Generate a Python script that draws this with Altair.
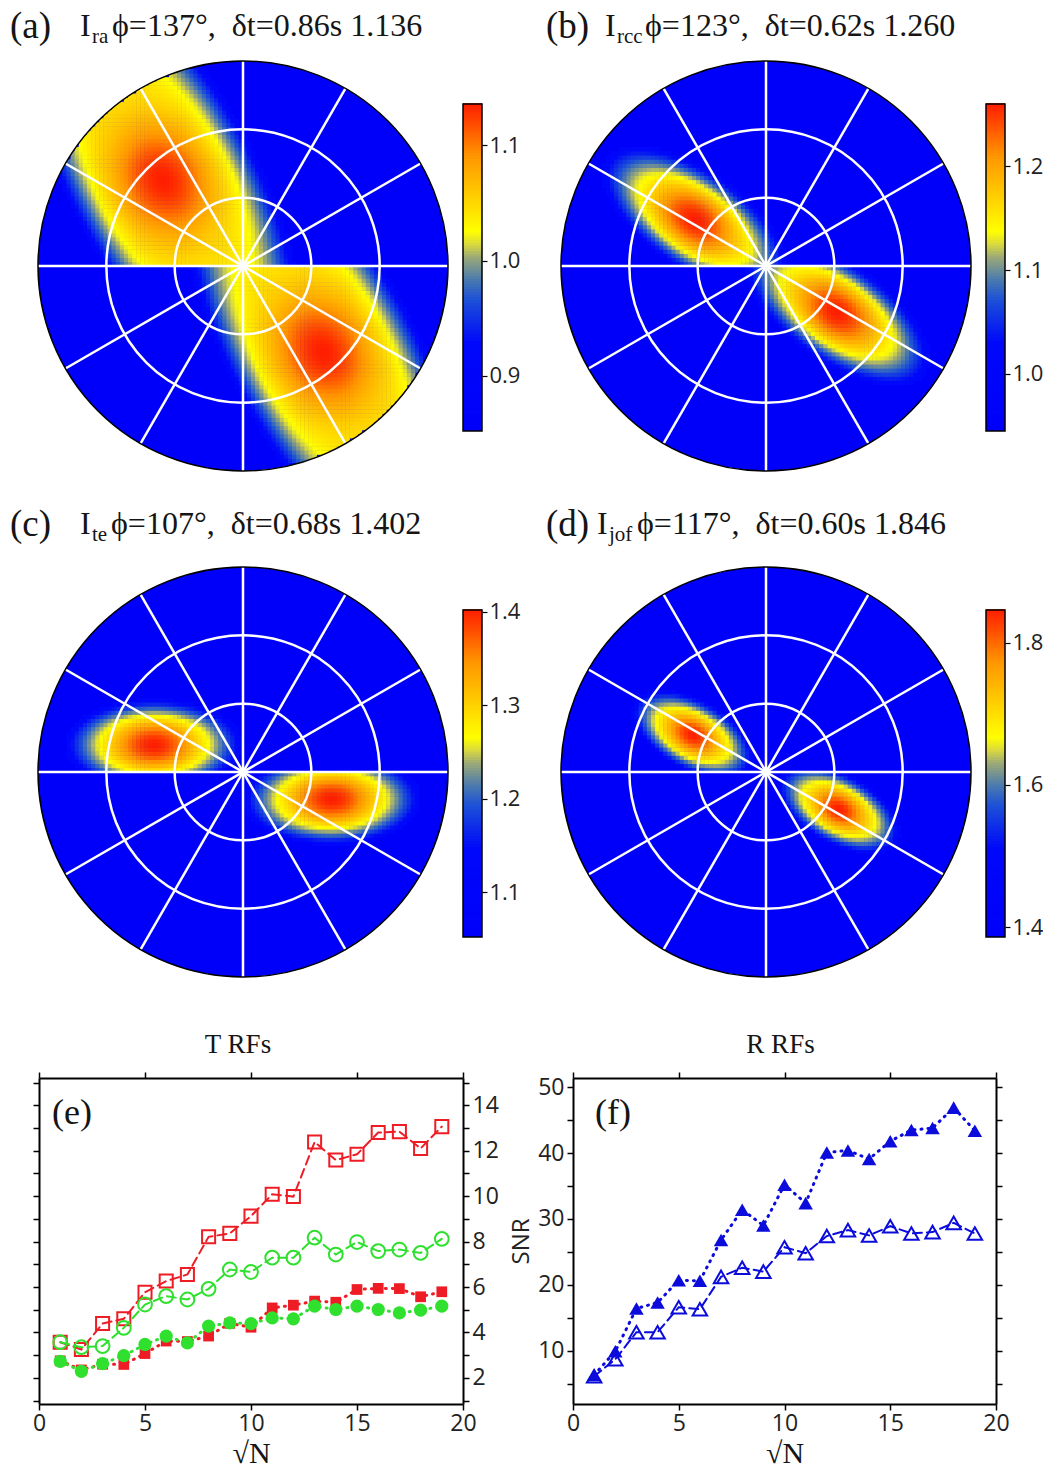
import math
import numpy as np
import pandas as pd
import altair as alt

alt.data_transformers.disable_max_rows()

# ---------------- values ----------------
PANEL_TAG = ["(a)", "(b)", "(c)", "(d)"]
PANEL_SUB = ["ra", "rcc", "te", "jof"]
PHI_DEG = [137, 123, 107, 117]
DT_S = [0.86, 0.62, 0.68, 0.60]
E_MAX = [1.136, 1.260, 1.402, 1.846]
E_MIN = [0.852, 0.945, 1.052, 1.386]
CB_TICKS = [[0.9, 1.0, 1.1], [1.0, 1.1, 1.2], [1.1, 1.2, 1.3, 1.4], [1.4, 1.6, 1.8]]
# shape of the energy maximum (fractions of the plot radius)
BLOB_AXIS_DEG = [118, 145, 180, 151]
BLOB_SIG_LONG = [1.00, 0.42, 0.345, 0.26]
BLOB_SIG_SHORT = [0.395, 0.19, 0.177, 0.135]
BLOB_EDGE = [3, 2, 2, 2]
CORE_SIG_LONG = [0.20, 0.13, 0.12, 0.08]
CORE_SIG_SHORT = [0.16, 0.09, 0.075, 0.055]
PLATEAU = [0.66, 0.70, 0.70, 0.70]
DT_MAX = 1.5
RING_DT = [0.5, 1.0]
SPOKE_DEG = [0, 30, 60, 90, 120, 150]

SQRT_N = list(range(1, 20))
T_RED_OPEN = [3.57, 3.25, 4.39, 4.60, 5.77, 6.26, 6.55, 8.21, 8.36, 9.12, 10.08, 9.98,
              12.38, 11.59, 11.84, 12.80, 12.84, 12.10, 13.06]
T_GRN_OPEN = [3.57, 3.35, 3.40, 4.20, 5.23, 5.60, 5.45, 5.92, 6.77, 6.66, 7.29, 7.29,
              8.17, 7.43, 7.98, 7.58, 7.65, 7.50, 8.12]
T_RED_FILL = [2.75, 2.35, 2.60, 2.59, 3.07, 3.62, 3.60, 3.84, 4.40, 4.23, 5.08, 5.20,
              5.38, 5.33, 5.89, 5.94, 5.93, 5.57, 5.79]
T_GRN_FILL = [2.73, 2.29, 2.63, 2.98, 3.47, 3.84, 3.54, 4.28, 4.42, 4.39, 4.64, 4.60,
              5.16, 5.01, 5.16, 5.01, 4.86, 4.98, 5.16]
R_FILL = [6.3, 9.9, 16.4, 17.3, 20.7, 20.6, 26.8, 31.4, 29.0, 35.2, 32.4, 40.1,
          40.4, 39.1, 41.8, 43.5, 43.8, 46.9, 43.4]
R_OPEN = [6.1, 8.7, 12.8, 12.8, 16.6, 16.3, 21.2, 22.6, 22.0, 25.7, 24.8, 27.4,
          28.3, 27.5, 28.9, 27.8, 28.0, 29.4, 27.8]

# ---------------- styling ----------------
R_PX = 205
STEP = 0.02
BLUE_BG = "#0000fa"
RED = "#ee1c24"
GREEN = "#2fe02f"
BLUE = "#0b0bdc"
SERIF = "Liberation Serif"
SANS = "Open Sans"

CSCALE = alt.Scale(
    domain=[0, 0.27, 0.40, 0.46, 0.53, 0.57, 0.61, 0.73, 0.84, 1.0],
    range=[BLUE_BG, "#0008fa", "#1c50d8", "#4878b0", "#9aa878", "#d8d840",
           "#ffff00", "#ffc800", "#ff9600", "#ff1e00"],
    interpolate="rgb",
)

# page geometry (pixels): panel origin, circle centre, size; colour bar top/bottom
GEOM = [
    dict(left=8, cx=243, W=444, top=16, cy=265, H=458, cbt=103, cbb=430,
         tag_x=2, i_x=72, sub_x=84, rest_x=104),
    dict(left=538, cx=765, W=436, top=16, cy=265, H=458, cbt=103, cbb=430,
         tag_x=7, i_x=66, sub_x=78, rest_x=106),
    dict(left=8, cx=243, W=444, top=513, cy=770, H=466, cbt=608, cbb=935,
         tag_x=2, i_x=72, sub_x=84, rest_x=103),
    dict(left=538, cx=765, W=436, top=513, cy=770, H=466, cbt=608, cbb=935,
         tag_x=7, i_x=58, sub_x=70, rest_x=98),
]
TXT_BASE = 19
CB_W = 19


def blob_cells(i):
    r = DT_S[i] / DT_MAX
    ang = math.radians(90 - PHI_DEG[i])
    pu, pv = -r * math.cos(ang), -r * math.sin(ang)
    th = math.radians(BLOB_AXIS_DEG[i])
    ca, sa = math.cos(th), math.sin(th)
    rows = []
    n = int(round(2 / STEP))
    h = STEP / 2 + 0.0012
    for ix in range(n):
        u = -1 + STEP * (ix + 0.5)
        for iy in range(n):
            v = -1 + STEP * (iy + 0.5)
            if u * u + v * v > 1.0:
                continue
            if v > 0:
                du, dv = u - pu, v - pv
            else:
                du, dv = u + pu, v + pv
            a = du * ca + dv * sa
            b = -du * sa + dv * ca
            s_env = (a / BLOB_SIG_LONG[i]) ** 2 + (b / BLOB_SIG_SHORT[i]) ** 2
            s_core = (a / CORE_SIG_LONG[i]) ** 2 + (b / CORE_SIG_SHORT[i]) ** 2
            env = math.exp(-0.5 * s_env ** BLOB_EDGE[i])
            core = PLATEAU[i] + (1 - PLATEAU[i]) * math.exp(-0.5 * s_core)
            gval = env * core
            if gval < 0.2:
                continue
            rows.append((round(u - h, 4), round(u + h, 4), round(v - h, 4), round(v + h, 4), round(gval, 3)))
    return pd.DataFrame(rows, columns=["u0", "u1", "v0", "v1", "t"])


def text_layer(s, x, y, size, font=SERIF):
    return alt.Chart(pd.DataFrame({"s": [s]})).mark_text(
        font=font, fontSize=size, align="left", baseline="alphabetic", color="#151515"
    ).encode(text="s:N", x=alt.value(x), y=alt.value(y))


def polar_panel(i):
    g = GEOM[i]
    xlo = -(g["cx"] - g["left"]) / R_PX
    xhi = xlo + g["W"] / R_PX
    yhi = (g["cy"] - g["top"]) / R_PX
    ylo = yhi - g["H"] / R_PX
    xs = alt.Scale(domain=[xlo, xhi], nice=False, zero=False)
    ys = alt.Scale(domain=[ylo, yhi], nice=False, zero=False)
    rs = alt.Scale(domain=[0, DT_MAX], range=[0, R_PX], nice=False, zero=True)
    full = dict(theta=0, theta2=2 * math.pi)

    center = pd.DataFrame({"cx": [0.0], "cy": [0.0], "r": [DT_MAX], "r2": [DT_MAX * 1.018]})
    cenc = dict(x=alt.X("cx:Q", scale=xs, axis=None), y=alt.Y("cy:Q", scale=ys, axis=None))

    disc = alt.Chart(center).mark_arc(fill=BLUE_BG, **full).encode(
        radius=alt.Radius("r:Q", scale=rs, stack=False), **cenc)
    cells = alt.Chart(blob_cells(i)).mark_rect().encode(
        x=alt.X("u0:Q", scale=xs, axis=None), x2="u1:Q",
        y=alt.Y("v0:Q", scale=ys, axis=None), y2="v1:Q",
        color=alt.Color("t:Q", scale=CSCALE, legend=None))
    mask = alt.Chart(center).mark_arc(fill="white", **full).encode(
        radius=alt.Radius("r2:Q", scale=rs, stack=False), radius2="r:Q", **cenc)
    rings_df = pd.DataFrame({"cx": [0.0] * len(RING_DT), "cy": [0.0] * len(RING_DT), "r": RING_DT})
    rings = alt.Chart(rings_df).mark_arc(fillOpacity=0, stroke="white", strokeWidth=2.5, **full).encode(
        radius=alt.Radius("r:Q", scale=rs, stack=False), **cenc)
    sp = pd.DataFrame({
        "x1": [math.cos(math.radians(a)) for a in SPOKE_DEG],
        "y1": [math.sin(math.radians(a)) for a in SPOKE_DEG],
    })
    sp["x2"] = -sp["x1"]
    sp["y2"] = -sp["y1"]
    spokes = alt.Chart(sp).mark_rule(color="white", strokeWidth=2.5).encode(
        x=alt.X("x1:Q", scale=xs, axis=None), y=alt.Y("y1:Q", scale=ys, axis=None),
        x2="x2:Q", y2="y2:Q")
    outline = alt.Chart(center).mark_arc(fillOpacity=0, stroke="black", strokeWidth=1.5, **full).encode(
        radius=alt.Radius("r:Q", scale=rs, stack=False), **cenc)

    rest = f"\u03d5={PHI_DEG[i]}\u00b0,\u00a0\u00a0\u03b4t={DT_S[i]:.2f}s {E_MAX[i]:.3f}"
    texts = [
        text_layer(PANEL_TAG[i], g["tag_x"], TXT_BASE + 2, 37),
        text_layer("I", g["i_x"], TXT_BASE, 32),
        text_layer(PANEL_SUB[i], g["sub_x"], TXT_BASE + 7, 21),
        text_layer(rest, g["rest_x"], TXT_BASE, 32),
    ]
    return alt.layer(disc, cells, mask, rings, spokes, outline, *texts).properties(
        width=g["W"], height=g["H"])


def colorbar(i):
    g = GEOM[i]
    cb_top = g["cbt"] - g["top"]
    cb_bot = g["cbb"] - g["top"]
    edges = np.linspace(E_MIN[i], E_MAX[i], 121)
    df = pd.DataFrame({"lo": edges[:-1], "hi": edges[1:] + (edges[1] - edges[0]) * 0.3})
    df["t"] = ((edges[:-1] + edges[1:]) / 2 - E_MIN[i]) / (E_MAX[i] - E_MIN[i])
    ys = alt.Scale(domain=[E_MIN[i], E_MAX[i]], range=[cb_bot, cb_top], nice=False, zero=False)
    ax = alt.Axis(orient="right", values=CB_TICKS[i], format=".1f", tickSize=5, tickColor="black",
                  tickWidth=1.2, domain=False, labelFont=SANS, labelFontSize=22, labelColor="#222",
                  labelPadding=2, grid=False, title=None, labelOverlap=False)
    bar = alt.Chart(df).mark_rect().encode(
        x=alt.value(0), x2=alt.value(CB_W),
        y=alt.Y("lo:Q", scale=ys, axis=ax), y2="hi:Q",
        color=alt.Color("t:Q", scale=CSCALE, legend=None))
    frame = alt.Chart(pd.DataFrame({"lo": [E_MIN[i]], "hi": [E_MAX[i]]})).mark_rect(
        fillOpacity=0, stroke="black", strokeWidth=1.5).encode(
        x=alt.value(0), x2=alt.value(CB_W),
        y=alt.Y("lo:Q", scale=ys, axis=ax), y2="hi:Q")
    return alt.layer(bar, frame).properties(width=CB_W, height=g["H"])


def line_panel(df, series, ydom, ax_main_y, ax_other_y, xs_vals, tag, tag_x, title, title_dx, W, H):
    xs = alt.Scale(domain=[0, 20], nice=False, zero=False)
    ys = alt.Scale(domain=ydom, nice=False, zero=False)
    ax_b = alt.Axis(orient="bottom", values=xs_vals, format="d", labelFlush=False, tickSize=6,
                    tickColor="black", tickWidth=1.5, domainColor="black", domainWidth=2,
                    labelFont=SANS, labelFontSize=23, labelColor="#222", labelPadding=2,
                    grid=False, title="\u221aN", titleFont=SERIF, titleFontSize=30,
                    titleFontWeight="normal", titleColor="#151515", titlePadding=3)
    ax_t = alt.Axis(orient="top", values=xs_vals, labels=False, tickSize=6, tickColor="black",
                    tickWidth=1.5, domainColor="black", domainWidth=2, grid=False, title=None)
    layers = []
    for col, color, shape, filled, size, dash, sw in series:
        base = alt.Chart(df).encode(
            x=alt.X("n:Q", scale=xs, axis=ax_b),
            y=alt.Y(col + ":Q", scale=ys, axis=ax_main_y))
        layers.append(base.mark_line(color=color, strokeWidth=sw, strokeDash=dash, strokeCap="round"))
        layers.append(base.mark_point(shape=shape, filled=filled, size=size, color=color,
                                      strokeWidth=2, opacity=1))
    main = alt.layer(*layers)
    extra = alt.Chart(df).mark_point(opacity=0).encode(
        x=alt.X("n:Q", scale=xs, axis=ax_t),
        y=alt.Y(series[0][0] + ":Q", scale=ys, axis=ax_other_y))
    lab = text_layer(tag, tag_x, 46, 36)
    return alt.layer(main, extra, lab).resolve_axis(x="independent", y="independent").properties(
        width=W, height=H,
        title=alt.TitleParams(title, font=SERIF, fontSize=27, fontWeight="normal", color="#151515",
                              offset=12, dx=title_dx, frame="group"))


df_e = pd.DataFrame({"n": SQRT_N, "ro": T_RED_OPEN, "go": T_GRN_OPEN, "rf": T_RED_FILL, "gf": T_GRN_FILL})
df_f = pd.DataFrame({"n": SQRT_N, "fo": R_OPEN, "ff": R_FILL})

e_right = alt.Axis(orient="right", values=list(range(1, 16)),
                   labelExpr="datum.value % 2 == 0 ? datum.label : ''", tickSize=6,
                   tickColor="black", tickWidth=1.5, domainColor="black", domainWidth=2,
                   labelFont=SANS, labelFontSize=23, labelColor="#222", labelPadding=3,
                   labelOverlap=False, grid=False, title=None)
e_left = alt.Axis(orient="left", values=list(range(1, 16)), labels=False, tickSize=6,
                  tickColor="black", tickWidth=1.5, domainColor="black", domainWidth=2,
                  grid=False, title=None)
f_left = alt.Axis(orient="left", values=list(range(5, 51, 5)),
                  labelExpr="datum.value % 10 == 0 ? datum.label : ''", tickSize=6,
                  tickColor="black", tickWidth=1.5, domainColor="black", domainWidth=2,
                  labelFont=SANS, labelFontSize=23, labelColor="#222", labelPadding=3,
                  labelOverlap=False, grid=False, title="SNR", titleFont=SANS, titleFontSize=24,
                  titleFontWeight="normal", titleColor="#222", titlePadding=4)
f_right = alt.Axis(orient="right", values=list(range(5, 51, 5)), labels=False, tickSize=6,
                   tickColor="black", tickWidth=1.5, domainColor="black", domainWidth=2,
                   grid=False, title=None)

e_series = [
    ("ro", RED, "square", False, 170, [9, 5], 2),
    ("go", GREEN, "circle", False, 190, [9, 5], 2),
    ("rf", RED, "square", True, 115, [1, 6], 3),
    ("gf", GREEN, "circle", True, 175, [1, 6], 3),
]
f_series = [
    ("fo", BLUE, "triangle-up", False, 210, [9, 5], 2),
    ("ff", BLUE, "triangle-up", True, 210, [1, 6], 3),
]

panel_e = line_panel(df_e, e_series, [0.85, 15.2], e_right, e_left, [0, 5, 10, 15, 20],
                     "(e)", 13, "T RFs", -13, 424, 326)
panel_f = line_panel(df_f, f_series, [1.9, 51.4], f_left, f_right, [0, 5, 10, 15, 20],
                     "(f)", 22, "R RFs", -4, 423, 326)

spacer = alt.Chart(pd.DataFrame({"z": [0]})).mark_rect(opacity=0).encode(
    x=alt.value(0), x2=alt.value(1), y=alt.value(0), y2=alt.value(1)).properties(width=1, height=1)

row1 = alt.hconcat(alt.hconcat(polar_panel(0), colorbar(0), spacing=10),
                   alt.hconcat(polar_panel(1), colorbar(1), spacing=10), spacing=19)
row2 = alt.hconcat(alt.hconcat(polar_panel(2), colorbar(2), spacing=10),
                   alt.hconcat(polar_panel(3), colorbar(3), spacing=10), spacing=19)
top = alt.vconcat(row1, row2, spacing=31)
row3 = alt.hconcat(spacer, alt.hconcat(panel_e, panel_f, spacing=10), spacing=23)

chart = alt.vconcat(top, row3, spacing=50).properties(padding=0).configure_view(strokeWidth=0)

chart.save("out.html", embed_options={"renderer": "svg", "actions": False})
